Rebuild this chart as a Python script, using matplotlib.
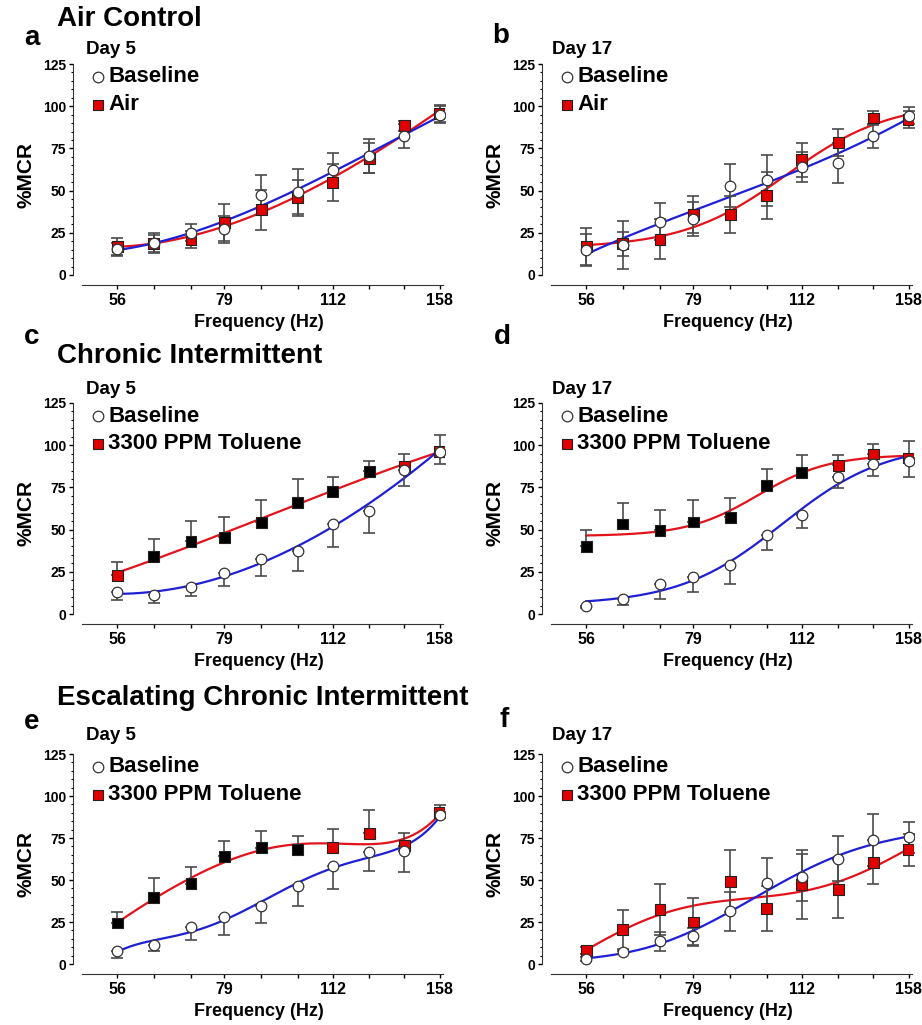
import numpy as np
import matplotlib
matplotlib.use("Agg")
import matplotlib.pyplot as plt
from matplotlib.ticker import FixedLocator, NullFormatter

plt.rcParams['font.family'] = ['Liberation Sans', 'DejaVu Sans']
plt.rcParams['font.weight'] = 'bold'

# stimulus frequencies (Hz)
freq = [56, 63, 71, 79, 89, 100, 112, 126, 141, 158]
freq_ticks = [56, 79, 112, 158]

# a: Air control, day 5
a_base = [15.2, 18.8, 25.1, 27.1, 47.5, 48.9, 62.3, 70.6, 82.5, 94.9]
a_base_err = [4, 6, 5, 8, 12, 14, 10, 10, 7, 5]
a_trt = [16.8, 18.8, 21.2, 31.0, 38.6, 46.0, 54.8, 69.2, 88.4, 95.5]
a_trt_err = [5, 5, 5, 11, 12, 10, 11, 9, 3, 5]

# b: Air control, day 17
b_base = [14.8, 17.8, 31.6, 33.2, 53.0, 56.0, 63.9, 66.3, 82.5, 94.3]
b_base_err = [9.5, 14, 11, 10, 13, 15, 9, 12, 7, 5]
b_trt = [16.8, 18.4, 21.2, 35.6, 35.6, 47.3, 68.2, 78.7, 93.0, 92.0]
b_trt_err = [11, 7, 12, 11, 11, 14, 10, 8, 4, 5]

# c: Chronic intermittent, day 5
c_base = [13.0, 11.3, 15.8, 24.3, 32.6, 37.5, 53.5, 60.8, 85.5, 96.0]
c_base_err = [5, 5, 5, 8, 10, 12, 14, 13, 9.5, 7]
c_trt = [22.9, 34.2, 43.0, 45.4, 54.3, 66.2, 72.3, 84.5, 87.5, 96.0]
c_trt_err = [8, 10, 12, 12, 13, 14, 9, 6, 7, 10]
c_sig = [0, 1, 1, 1, 1, 1, 1, 1, 0, 0]

# d: Chronic intermittent, day 17
d_base = [4.5, 8.9, 17.8, 21.7, 28.8, 47.0, 58.8, 81.0, 89.0, 90.8]
d_base_err = [1, 3.4, 8.7, 8.7, 11, 9, 8, 6.4, 7.5, 9.8]
d_trt = [40.0, 53.3, 49.6, 54.5, 57.3, 76.2, 84.0, 88.0, 94.8, 92.4]
d_trt_err = [10, 12.5, 12, 13, 11.5, 9.7, 10, 6.3, 6, 10]
d_sig = [1, 1, 1, 1, 1, 1, 1, 0, 0, 0]

# e: Escalating chronic intermittent, day 5
e_base = [7.9, 11.1, 21.8, 27.9, 34.7, 46.2, 58.6, 66.6, 67.0, 88.7]
e_base_err = [4.3, 3.6, 7.3, 10.5, 10, 11.5, 14, 11, 12.5, 2]
e_trt = [24.4, 39.8, 47.7, 64.0, 69.3, 68.0, 69.5, 77.9, 70.3, 90.3]
e_trt_err = [6.3, 11.3, 10.3, 9, 10, 8, 11, 13.8, 7.6, 4.4]
e_sig = [1, 1, 1, 1, 1, 1, 0, 0, 0, 0]

# f: Escalating chronic intermittent, day 17
f_base = [3.0, 6.9, 13.5, 16.4, 31.3, 48.5, 51.7, 62.6, 73.9, 75.3]
f_base_err = [1, 1, 5.6, 5.3, 11.5, 14.5, 14, 13.3, 15.4, 9.5]
f_trt = [8.0, 20.7, 32.5, 25.0, 49.3, 33.2, 47.5, 44.5, 60.6, 68.0]
f_trt_err = [2, 11.6, 15, 14, 18.6, 13.4, 20.5, 17.2, 13, 9.5]
f_sig = [0] * 10

RED = '#e3131b'
BLUE = '#1f1fd6'
SQ_RED = '#e00000'
ERR = '#4a4a4a'

W, H = 922, 1025
fig = plt.figure(figsize=(W / 100, H / 100), dpi=100)


def fit_curve(lx, y, kind, lxs):
    # kind: int -> polynomial degree in log10(freq); 'sig' -> 4-param logistic
    y = np.asarray(y, float)
    if kind != 'sig':
        return np.polyval(np.polyfit(lx, y, kind), lxs)
    best = None
    for x0 in np.linspace(lx.min(), lx.max(), 80):
        for k in np.linspace(3, 60, 80):
            s = 1 / (1 + np.exp(-k * (lx - x0)))
            A = np.column_stack([np.ones_like(s), s])
            coef = np.linalg.lstsq(A, y, rcond=None)[0]
            err = np.sum((A @ coef - y) ** 2)
            if best is None or err < best[0]:
                best = (err, x0, k, coef)
    _, x0, k, coef = best
    return coef[0] + coef[1] / (1 + np.exp(-k * (lxs - x0)))


def px_axes(x0, y_top, x1, y_bot):
    # pixel box -> figure fraction
    return fig.add_axes([x0 / W, 1 - y_bot / H, (x1 - x0) / W, (y_bot - y_top) / H])


def panel(x0, y_top, y_bot, base, base_err, trt, trt_err, sig, trt_label,
          one_sided, fit_b, fit_t):
    # y_top = pixel of 125, y_bot = pixel of 0; x spine sits 10 px below 0
    ax = px_axes(x0, y_top, x0 + 372, y_bot + 10)
    ax.set_xscale('log')
    ax.set_xlim(48.6, 160.6)
    ax.set_ylim(-125 * 10 / (y_bot - y_top), 125)
    for s in ['top', 'right']:
        ax.spines[s].set_visible(False)
    ax.spines['left'].set_bounds(0, 125)
    ax.spines['bottom'].set_bounds(50, 159.5)
    ax.spines['left'].set_color('#333333')
    ax.spines['bottom'].set_color('#333333')

    f = np.array(freq, float)
    lx = np.log10(f)
    xs = np.logspace(lx[0], lx[-1], 200)
    lxs = np.log10(xs)
    ax.plot(xs, fit_curve(lx, trt, fit_t, lxs), color=RED, lw=1.6, zorder=2)
    ax.plot(xs, fit_curve(lx, base, fit_b, lxs), color=BLUE, lw=1.6, zorder=2)

    if one_sided:
        be = [base_err, [0] * 10]
        te = [[0] * 10, trt_err]
    else:
        be = base_err
        te = trt_err
    ax.errorbar(f, trt, yerr=te, fmt='none', ecolor=ERR, elinewidth=1.2,
                capsize=4, capthick=1.2, zorder=3)
    ax.errorbar(f, base, yerr=be, fmt='none', ecolor=ERR, elinewidth=1.2,
                capsize=4, capthick=1.2, zorder=3)

    cols = ['black' if s else SQ_RED for s in sig]
    ax.scatter(f, trt, marker='s', s=62, c=cols, edgecolors='#222222',
               linewidths=0.8, zorder=4)
    ax.scatter(f, base, marker='o', s=58, c='white', edgecolors='#333333',
               linewidths=0.9, zorder=5)

    ax.xaxis.set_major_locator(FixedLocator(freq_ticks))
    ax.xaxis.set_minor_locator(FixedLocator([v for v in freq if v not in freq_ticks]))
    ax.set_xticklabels([str(v) for v in freq_ticks])
    ax.xaxis.set_minor_formatter(NullFormatter())
    ax.yaxis.set_major_locator(FixedLocator(range(0, 126, 25)))
    ax.yaxis.set_minor_locator(FixedLocator(range(0, 126, 5)))
    ax.tick_params(axis='x', which='major', length=3, width=1, labelsize=11.5, pad=3)
    ax.tick_params(axis='x', which='minor', length=3, width=1)
    ax.tick_params(axis='y', which='major', length=3, width=1, labelsize=10, pad=2)
    ax.tick_params(axis='y', which='minor', length=1.5, width=0.8)
    for lab in ax.get_xticklabels() + ax.get_yticklabels():
        lab.set_fontweight('bold')
    ax.set_xlabel('Frequency (Hz)', fontsize=13, fontweight='bold', labelpad=4)
    ax.set_ylabel('%MCR', fontsize=15, fontweight='bold', labelpad=5)

    # legend drawn inside the axes near the top left
    lx0 = x0 + 25
    ly0 = y_top + 13
    fig.text((lx0 + 10) / W, 1 - ly0 / H, 'Baseline', fontsize=16,
             fontweight='bold', va='center', ha='left')
    fig.text((lx0 + 10) / W, 1 - (ly0 + 28) / H, trt_label, fontsize=16,
             fontweight='bold', va='center', ha='left')
    lg = fig.add_axes([(lx0 - 8) / W, 1 - (ly0 + 36) / H, 16 / W, 46 / H])
    lg.set_xlim(0, 1)
    lg.set_ylim(0, 46)
    lg.axis('off')
    lg.scatter([0.5], [36], marker='o', s=58, c='white', edgecolors='#333333',
               linewidths=0.9)
    lg.scatter([0.5], [8], marker='s', s=62, c=SQ_RED, edgecolors='#222222',
               linewidths=0.8)
    return ax


# row 1
panel(73, 64, 275, a_base, a_base_err, a_trt, a_trt_err, [0] * 10, 'Air', False, 3, 3)
panel(542, 64, 275, b_base, b_base_err, b_trt, b_trt_err, [0] * 10, 'Air', False, 3, 'sig')
# row 2
panel(73, 403, 614, c_base, c_base_err, c_trt, c_trt_err, c_sig, '3300 PPM Toluene', True, 3, 3)
panel(542, 403, 614, d_base, d_base_err, d_trt, d_trt_err, d_sig, '3300 PPM Toluene', True, 'sig', 'sig')
# row 3
panel(73, 754, 964, e_base, e_base_err, e_trt, e_trt_err, e_sig, '3300 PPM Toluene', True, 5, 5)
panel(542, 754, 964, f_base, f_base_err, f_trt, f_trt_err, f_sig, '3300 PPM Toluene', False, 5, 5)

# panel letters, group titles, day labels
def t(x, y, s, size, **kw):
    fig.text(x / W, 1 - y / H, s, fontsize=size, fontweight='bold', va='center', ha='left', **kw)

t(24, 38, 'a', 20)
t(492, 36, 'b', 20)
t(24, 337, 'c', 20)
t(494, 337, 'd', 20)
t(24, 722, 'e', 20)
t(499, 720, 'f', 20)
t(57, 19, 'Air Control', 20)
t(57, 356, 'Chronic Intermittent', 20)
t(57, 698, 'Escalating Chronic Intermittent', 20)
t(86, 49, 'Day 5', 13.5)
t(552, 49, 'Day 17', 13.5)
t(86, 389, 'Day 5', 13.5)
t(552, 389, 'Day 17', 13.5)
t(86, 735, 'Day 5', 13.5)
t(552, 735, 'Day 17', 13.5)

fig.savefig('out.png', dpi=100)
